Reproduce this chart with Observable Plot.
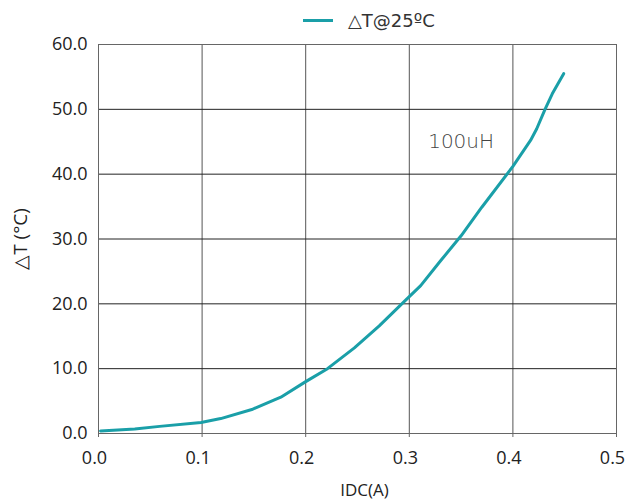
<!DOCTYPE html>
<html>
<head>
<meta charset="utf-8">
<script src="https://cdn.jsdelivr.net/npm/d3@7"></script>
<script src="https://cdn.jsdelivr.net/npm/@observablehq/plot@0.6"></script>
<style>
  body { margin: 0; background: #fff; font-family: "Open Sans", sans-serif; }
  #wrap { position: relative; width: 643px; height: 504px; }
  #legend { position: absolute; left: 303px; top: 8px; height: 24px; display: flex; align-items: center; font-size: 18px; color: #333; font-family: "DejaVu Sans", sans-serif; }
  #legend .sw { width: 30px; height: 3px; background: #1a9fa8; margin-right: 15px; }
</style>
</head>
<body>
<div id="wrap">
  <div id="legend"><span class="sw"></span><span>△T@25ºC</span></div>
</div>
<script>
const seriesName = "△T@25ºC";
const idc = [0.002, 0.035, 0.059, 0.099, 0.118, 0.148, 0.176, 0.2, 0.221, 0.247, 0.271, 0.296, 0.311, 0.330, 0.350, 0.370, 0.4, 0.417, 0.423, 0.431, 0.438, 0.449];
const deltaT = [0.4, 0.7, 1.1, 1.7, 2.3, 3.7, 5.6, 8.0, 10.0, 13.2, 16.6, 20.5, 22.8, 26.6, 30.5, 34.9, 41.2, 45.2, 47.0, 50.0, 52.4, 55.5];
const xTicks = [0, 0.1, 0.2, 0.3, 0.4, 0.5];
const yTicks = [0, 10, 20, 30, 40, 50, 60];
const annotation = [{x: 0.35, y: 45, label: "100uH"}];

const data = idc.map((x, i) => ({x, y: deltaT[i]}));

const chart = Plot.plot({
  width: 643,
  height: 504,
  marginTop: 44,
  marginBottom: 71,
  marginLeft: 98,
  marginRight: 27,
  style: {fontFamily: "'Open Sans', sans-serif", fontSize: "18px", color: "#222", background: "#fff"},
  x: {domain: [0, 0.5], label: null},
  y: {domain: [0, 60], label: null},
  marks: [
    Plot.gridX(xTicks, {stroke: "#555", strokeOpacity: 1, strokeWidth: 1}),
    Plot.gridY(yTicks, {stroke: "#222", strokeOpacity: 1, strokeWidth: 1}),
    Plot.frame({stroke: "#666"}),
    Plot.axisX({ticks: xTicks, tickSize: 4, stroke: "#666", text: null, label: null}),
    Plot.axisX({ticks: xTicks, tickFormat: d3.format(".1f"), tickSize: 0, tickPadding: 18, fill: "#222", fontSize: 18, dx: -4, label: null}),
    Plot.axisY({ticks: yTicks, tickFormat: d3.format(".1f"), tickSize: 0, tickPadding: 11, fill: "#222", fontSize: 18, label: null}),
    Plot.line(data, {x: "x", y: "y", stroke: "#1a9fa8", strokeWidth: 3, curve: "linear"}),
    Plot.text(annotation, {x: "x", y: "y", text: "label", fontSize: 20, fill: "#444", fontWeight: 200, fontFamily: "'DejaVu Sans', sans-serif"}),
    Plot.text(["IDC(A)"], {frameAnchor: "bottom", dx: 7, dy: 62, fontSize: 17, fill: "#222"}),
    Plot.text(["△T (°C)"], {frameAnchor: "left", dx: -78, rotate: -90, fontSize: 19, fill: "#222", textAnchor: "middle", letterSpacing: "2.5px"})
  ]
});
document.getElementById("wrap").prepend(chart);
</script>
</body>
</html>
